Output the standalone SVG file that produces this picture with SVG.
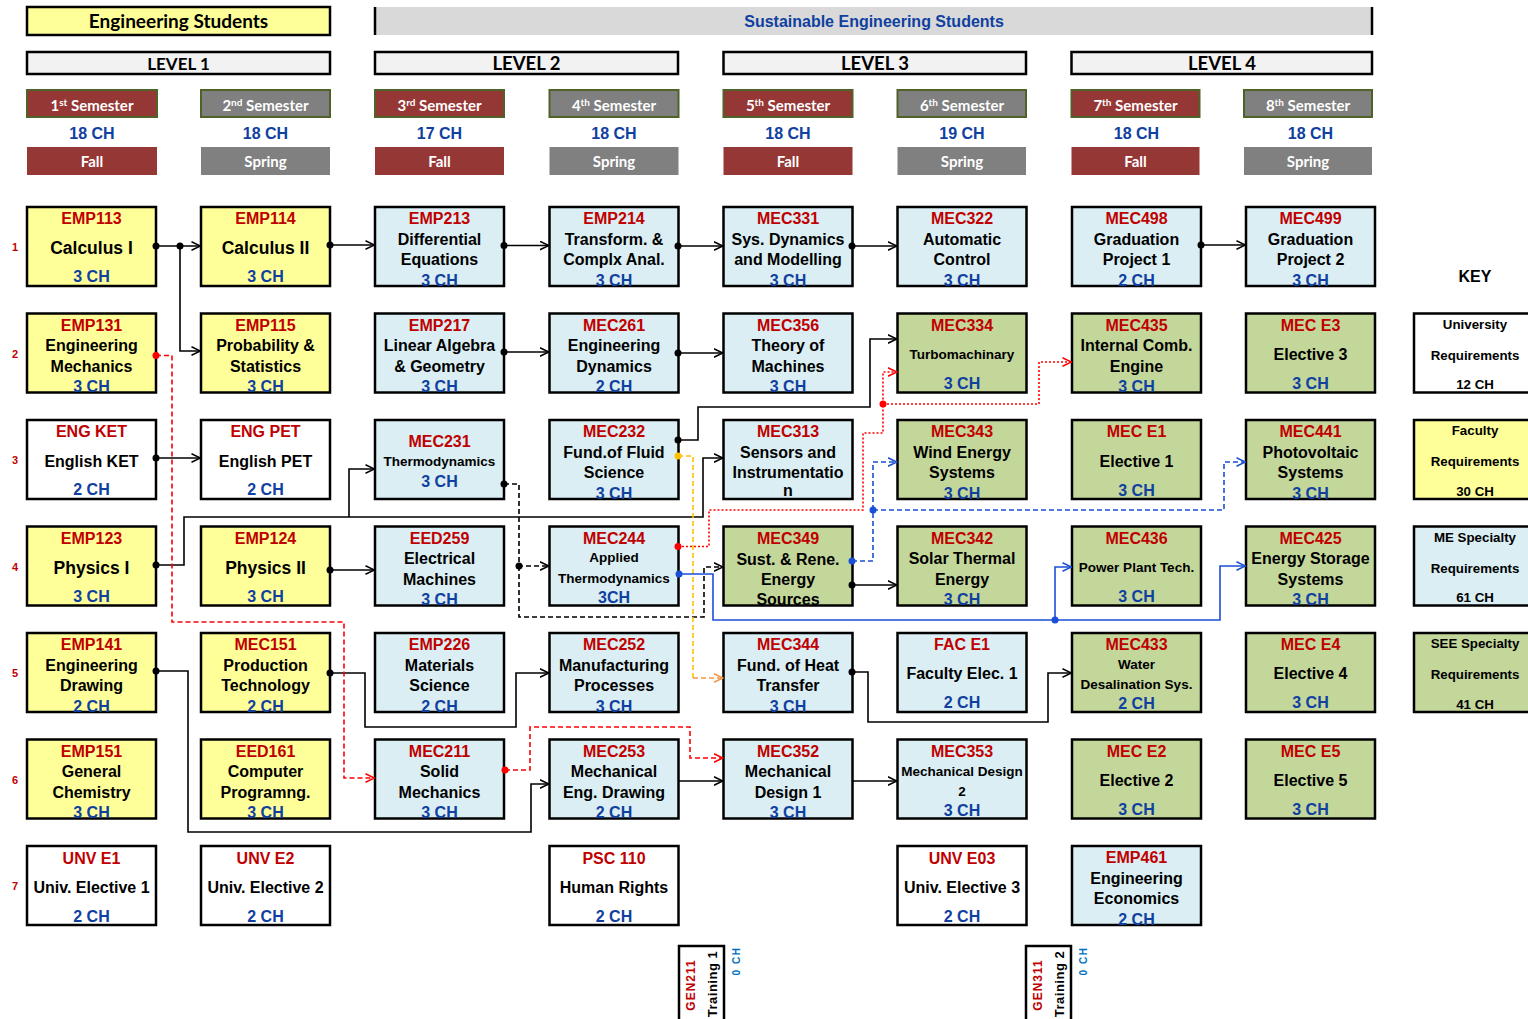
<svg xmlns="http://www.w3.org/2000/svg" width="1528" height="1019" viewBox="0 0 1528 1019">
<defs>
<style>
.a{font-family:"Liberation Sans",Arial,sans-serif;font-weight:bold;text-anchor:middle}
.cal{font-family:Lato,"Liberation Sans",sans-serif;font-weight:bold;text-anchor:middle}
.bx{stroke:#000;stroke-width:2.5}
.Y{fill:#ffff99}.B{fill:#daeef3}.G{fill:#c4d79b}.W{fill:#fff}
.c{fill:#c00000;font-size:16px}
.n{fill:#000;font-size:16px}
.h{fill:#1040a0;font-size:16px}
.sm{font-size:13.5px}
.lg{font-size:17.5px}
.kt{fill:#000;font-size:13.3px}
.rn{fill:#c00000;font-size:11px}
.sem{stroke:#4f6228;stroke-width:2}
.fa{fill:#953735}.sp{fill:#808080}
.wt{fill:#fff;font-size:15px}
.lv{fill:#f2f2f2;stroke:#000;stroke-width:2.5}
.ln{fill:none;stroke-width:1.6}
.k{stroke:#000}.r{stroke:#ff0000}.bl{stroke:#1a4fd6}.yl{stroke:#ffc000}.or{stroke:#f79646}
.ds{stroke-dasharray:5 3}.dt{stroke-dasharray:2 2}
.dk{fill:#000}.dr{fill:#ff0000}.db{fill:#1a4fd6}.dy{fill:#ffc000}
</style>
<marker id="ak" viewBox="0 0 10 10" refX="9.5" refY="5" markerWidth="10" markerHeight="10" markerUnits="userSpaceOnUse" orient="auto"><path d="M0.5,0.8 L9.5,5 L0.5,9.2" fill="none" stroke="#000" stroke-width="1.5"/></marker>
<marker id="ar" viewBox="0 0 10 10" refX="9.5" refY="5" markerWidth="10" markerHeight="10" markerUnits="userSpaceOnUse" orient="auto"><path d="M0.5,0.8 L9.5,5 L0.5,9.2" fill="none" stroke="#ff0000" stroke-width="1.5"/></marker>
<marker id="ab" viewBox="0 0 10 10" refX="9.5" refY="5" markerWidth="10" markerHeight="10" markerUnits="userSpaceOnUse" orient="auto"><path d="M0.5,0.8 L9.5,5 L0.5,9.2" fill="none" stroke="#1a4fd6" stroke-width="1.5"/></marker>
<marker id="ao" viewBox="0 0 10 10" refX="9.5" refY="5" markerWidth="10" markerHeight="10" markerUnits="userSpaceOnUse" orient="auto"><path d="M0.5,0.8 L9.5,5 L0.5,9.2" fill="none" stroke="#f79646" stroke-width="1.5"/></marker>
</defs>
<rect width="1528" height="1019" fill="#fff"/>

<!-- top banners -->
<g id="hdr-eng"><rect x="27" y="7" width="303" height="28" class="Y bx"/><text class="cal" x="178.5" y="28" font-size="19" fill="#000">Engineering Students</text></g>
<g id="hdr-see"><rect x="375" y="7" width="997" height="28" fill="#d9d9d9"/><line x1="375" y1="7" x2="375" y2="35" stroke="#000" stroke-width="2.5"/><line x1="1372" y1="7" x2="1372" y2="35" stroke="#000" stroke-width="2.5"/><text class="a" x="874" y="27" font-size="16" fill="#0f3fa0">Sustainable Engineering Students</text></g>

<!-- levels -->
<g id="levels">
<rect x="27" y="52" width="303" height="22" class="lv"/><text class="cal" x="178.5" y="69.5" font-size="17">LEVEL 1</text>
<rect x="375" y="52" width="303" height="22" class="lv"/><text class="cal" x="526.5" y="70" font-size="18.5">LEVEL 2</text>
<rect x="723.5" y="52" width="302.5" height="22" class="lv"/><text class="cal" x="875" y="70" font-size="18.5">LEVEL 3</text>
<rect x="1071.5" y="52" width="300.5" height="22" class="lv"/><text class="cal" x="1222" y="70" font-size="18.5">LEVEL 4</text>
</g>

<!-- semesters -->
<g id="semesters">
<rect x="27" y="90" width="130" height="27" class="fa sem"/><text class="cal wt" x="92" y="111">1<tspan dy="-5" font-size="10">st</tspan><tspan dy="5"> Semester</tspan></text>
<rect x="201" y="90" width="129" height="27" class="sp sem"/><text class="cal wt" x="265.5" y="111">2<tspan dy="-5" font-size="10">nd</tspan><tspan dy="5"> Semester</tspan></text>
<rect x="375" y="90" width="129" height="27" class="fa sem"/><text class="cal wt" x="439.5" y="111">3<tspan dy="-5" font-size="10">rd</tspan><tspan dy="5"> Semester</tspan></text>
<rect x="549.5" y="90" width="129" height="27" class="sp sem"/><text class="cal wt" x="614" y="111">4<tspan dy="-5" font-size="10">th</tspan><tspan dy="5"> Semester</tspan></text>
<rect x="723.5" y="90" width="129" height="27" class="fa sem"/><text class="cal wt" x="788" y="111">5<tspan dy="-5" font-size="10">th</tspan><tspan dy="5"> Semester</tspan></text>
<rect x="897.5" y="90" width="128.5" height="27" class="sp sem"/><text class="cal wt" x="962" y="111">6<tspan dy="-5" font-size="10">th</tspan><tspan dy="5"> Semester</tspan></text>
<rect x="1071.5" y="90" width="128" height="27" class="fa sem"/><text class="cal wt" x="1135.5" y="111">7<tspan dy="-5" font-size="10">th</tspan><tspan dy="5"> Semester</tspan></text>
<rect x="1244" y="90" width="128" height="27" class="sp sem"/><text class="cal wt" x="1308" y="111">8<tspan dy="-5" font-size="10">th</tspan><tspan dy="5"> Semester</tspan></text>

<text class="a h" x="92" y="139">18 CH</text>
<text class="a h" x="265.5" y="139">18 CH</text>
<text class="a h" x="439.5" y="139">17 CH</text>
<text class="a h" x="614" y="139">18 CH</text>
<text class="a h" x="788" y="139">18 CH</text>
<text class="a h" x="962" y="139">19 CH</text>
<text class="a h" x="1136.5" y="139">18 CH</text>
<text class="a h" x="1310.5" y="139">18 CH</text>

<rect x="27" y="147" width="130" height="28" class="fa"/><text class="cal wt" x="92" y="167">Fall</text>
<rect x="201" y="147" width="129" height="28" class="sp"/><text class="cal wt" x="265.5" y="167">Spring</text>
<rect x="375" y="147" width="129" height="28" class="fa"/><text class="cal wt" x="439.5" y="167">Fall</text>
<rect x="549.5" y="147" width="129" height="28" class="sp"/><text class="cal wt" x="614" y="167">Spring</text>
<rect x="723.5" y="147" width="129" height="28" class="fa"/><text class="cal wt" x="788" y="167">Fall</text>
<rect x="897.5" y="147" width="128.5" height="28" class="sp"/><text class="cal wt" x="962" y="167">Spring</text>
<rect x="1071.5" y="147" width="128" height="28" class="fa"/><text class="cal wt" x="1135.5" y="167">Fall</text>
<rect x="1244" y="147" width="128" height="28" class="sp"/><text class="cal wt" x="1308" y="167">Spring</text>
</g>

<!-- row numbers -->
<g id="row-numbers" class="a rn">
<text x="15" y="251">1</text><text x="15" y="357.5">2</text><text x="15" y="464">3</text><text x="15" y="570.5">4</text><text x="15" y="677">5</text><text x="15" y="783.5">6</text><text x="15" y="890">7</text>
</g>

<!-- row 1 -->
<g id="EMP113"><rect x="27" y="207" width="129" height="79" class="Y bx"/><text class="a c" x="91.5" y="224">EMP113</text><text class="a n lg" x="91.5" y="254">Calculus I</text><text class="a h" x="91.5" y="282">3 CH</text></g>
<g id="EMP114"><rect x="201" y="207" width="129" height="79" class="Y bx"/><text class="a c" x="265.5" y="224">EMP114</text><text class="a n lg" x="265.5" y="254">Calculus II</text><text class="a h" x="265.5" y="282">3 CH</text></g>
<g id="EMP213"><rect x="375" y="207" width="129" height="79" class="B bx"/><text class="a c" x="439.5" y="224">EMP213</text><text class="a n" x="439.5" y="244.5">Differential</text><text class="a n" x="439.5" y="265">Equations</text><text class="a h" x="439.5" y="285.5">3 CH</text></g>
<g id="EMP214"><rect x="549.5" y="207" width="129" height="79" class="B bx"/><text class="a c" x="614" y="224">EMP214</text><text class="a n" x="614" y="244.5">Transform. &amp;</text><text class="a n" x="614" y="265">Complx Anal.</text><text class="a h" x="614" y="285.5">3 CH</text></g>
<g id="MEC331"><rect x="723.5" y="207" width="129" height="79" class="B bx"/><text class="a c" x="788" y="224">MEC331</text><text class="a n" x="788" y="244.5">Sys. Dynamics</text><text class="a n" x="788" y="265">and Modelling</text><text class="a h" x="788" y="285.5">3 CH</text></g>
<g id="MEC322"><rect x="897.5" y="207" width="129" height="79" class="B bx"/><text class="a c" x="962" y="224">MEC322</text><text class="a n" x="962" y="244.5">Automatic</text><text class="a n" x="962" y="265">Control</text><text class="a h" x="962" y="285.5">3 CH</text></g>
<g id="MEC498"><rect x="1072" y="207" width="129" height="79" class="B bx"/><text class="a c" x="1136.5" y="224">MEC498</text><text class="a n" x="1136.5" y="244.5">Graduation</text><text class="a n" x="1136.5" y="265">Project 1</text><text class="a h" x="1136.5" y="285.5">2 CH</text></g>
<g id="MEC499"><rect x="1246" y="207" width="129" height="79" class="B bx"/><text class="a c" x="1310.5" y="224">MEC499</text><text class="a n" x="1310.5" y="244.5">Graduation</text><text class="a n" x="1310.5" y="265">Project 2</text><text class="a h" x="1310.5" y="285.5">3 CH</text></g>
<text class="a" x="1475" y="282" font-size="16" fill="#000">KEY</text>

<!-- row 2 -->
<g id="EMP131"><rect x="27" y="313.5" width="129" height="79" class="Y bx"/><text class="a c" x="91.5" y="330.5">EMP131</text><text class="a n" x="91.5" y="351">Engineering</text><text class="a n" x="91.5" y="371.5">Mechanics</text><text class="a h" x="91.5" y="392">3 CH</text></g>
<g id="EMP115"><rect x="201" y="313.5" width="129" height="79" class="Y bx"/><text class="a c" x="265.5" y="330.5">EMP115</text><text class="a n" x="265.5" y="351">Probability &amp;</text><text class="a n" x="265.5" y="371.5">Statistics</text><text class="a h" x="265.5" y="392">3 CH</text></g>
<g id="EMP217"><rect x="375" y="313.5" width="129" height="79" class="B bx"/><text class="a c" x="439.5" y="330.5">EMP217</text><text class="a n" x="439.5" y="351">Linear Algebra</text><text class="a n" x="439.5" y="371.5">&amp; Geometry</text><text class="a h" x="439.5" y="392">3 CH</text></g>
<g id="MEC261"><rect x="549.5" y="313.5" width="129" height="79" class="B bx"/><text class="a c" x="614" y="330.5">MEC261</text><text class="a n" x="614" y="351">Engineering</text><text class="a n" x="614" y="371.5">Dynamics</text><text class="a h" x="614" y="392">2 CH</text></g>
<g id="MEC356"><rect x="723.5" y="313.5" width="129" height="79" class="B bx"/><text class="a c" x="788" y="330.5">MEC356</text><text class="a n" x="788" y="351">Theory of</text><text class="a n" x="788" y="371.5">Machines</text><text class="a h" x="788" y="392">3 CH</text></g>
<g id="MEC334"><rect x="897.5" y="313.5" width="129" height="79" class="G bx"/><text class="a c" x="962" y="330.5">MEC334</text><text class="a n sm" x="962" y="358.5">Turbomachinary</text><text class="a h" x="962" y="389">3 CH</text></g>
<g id="MEC435"><rect x="1072" y="313.5" width="129" height="79" class="G bx"/><text class="a c" x="1136.5" y="330.5">MEC435</text><text class="a n" x="1136.5" y="351">Internal Comb.</text><text class="a n" x="1136.5" y="371.5">Engine</text><text class="a h" x="1136.5" y="392">3 CH</text></g>
<g id="MEC-E3"><rect x="1246" y="313.5" width="129" height="79" class="G bx"/><text class="a c" x="1310.5" y="330.5">MEC E3</text><text class="a n" x="1310.5" y="360">Elective 3</text><text class="a h" x="1310.5" y="389">3 CH</text></g>
<g id="key-university"><rect x="1414" y="313.5" width="130" height="79" class="W bx"/><text class="a kt" x="1475" y="328.5">University</text><text class="a kt" x="1475" y="359.5">Requirements</text><text class="a kt" x="1475" y="389">12 CH</text></g>

<!-- row 3 -->
<g id="ENG-KET"><rect x="27" y="420" width="129" height="79" class="W bx"/><text class="a c" x="91.5" y="437">ENG KET</text><text class="a n" x="91.5" y="466.5">English KET</text><text class="a h" x="91.5" y="495">2 CH</text></g>
<g id="ENG-PET"><rect x="201" y="420" width="129" height="79" class="W bx"/><text class="a c" x="265.5" y="437">ENG PET</text><text class="a n" x="265.5" y="466.5">English PET</text><text class="a h" x="265.5" y="495">2 CH</text></g>
<g id="MEC231"><rect x="375" y="420" width="129" height="79" class="B bx"/><text class="a c" x="439.5" y="446.5">MEC231</text><text class="a n sm" x="439.5" y="466">Thermodynamics</text><text class="a h" x="439.5" y="486.5">3 CH</text></g>
<g id="MEC232"><rect x="549.5" y="420" width="129" height="79" class="B bx"/><text class="a c" x="614" y="437">MEC232</text><text class="a n" x="614" y="457.5">Fund.of Fluid</text><text class="a n" x="614" y="478">Science</text><text class="a h" x="614" y="498.5">3 CH</text></g>
<g id="MEC313"><rect x="723.5" y="420" width="129" height="79" class="B bx"/><text class="a c" x="788" y="436.5">MEC313</text><text class="a n" x="788" y="457.5">Sensors and</text><text class="a n" x="788" y="477.5">Instrumentatio</text><text class="a n" x="788" y="496">n</text></g>
<g id="MEC343"><rect x="897.5" y="420" width="129" height="79" class="G bx"/><text class="a c" x="962" y="437">MEC343</text><text class="a n" x="962" y="457.5">Wind Energy</text><text class="a n" x="962" y="478">Systems</text><text class="a h" x="962" y="498.5">3 CH</text></g>
<g id="MEC-E1"><rect x="1072" y="420" width="129" height="79" class="G bx"/><text class="a c" x="1136.5" y="437">MEC E1</text><text class="a n" x="1136.5" y="466.5">Elective 1</text><text class="a h" x="1136.5" y="495.5">3 CH</text></g>
<g id="MEC441"><rect x="1246" y="420" width="129" height="79" class="G bx"/><text class="a c" x="1310.5" y="437">MEC441</text><text class="a n" x="1310.5" y="457.5">Photovoltaic</text><text class="a n" x="1310.5" y="478">Systems</text><text class="a h" x="1310.5" y="498.5">3 CH</text></g>
<g id="key-faculty"><rect x="1414" y="420" width="130" height="79" class="Y bx"/><text class="a kt" x="1475" y="435">Faculty</text><text class="a kt" x="1475" y="466">Requirements</text><text class="a kt" x="1475" y="495.5">30 CH</text></g>

<!-- row 4 -->
<g id="EMP123"><rect x="27" y="526.5" width="129" height="79" class="Y bx"/><text class="a c" x="91.5" y="543.5">EMP123</text><text class="a n lg" x="91.5" y="573.5">Physics I</text><text class="a h" x="91.5" y="601.5">3 CH</text></g>
<g id="EMP124"><rect x="201" y="526.5" width="129" height="79" class="Y bx"/><text class="a c" x="265.5" y="543.5">EMP124</text><text class="a n lg" x="265.5" y="573.5">Physics II</text><text class="a h" x="265.5" y="601.5">3 CH</text></g>
<g id="EED259"><rect x="375" y="526.5" width="129" height="79" class="B bx"/><text class="a c" x="439.5" y="543.5">EED259</text><text class="a n" x="439.5" y="564">Electrical</text><text class="a n" x="439.5" y="584.5">Machines</text><text class="a h" x="439.5" y="605">3 CH</text></g>
<g id="MEC244"><rect x="549.5" y="526.5" width="129" height="79" class="B bx"/><text class="a c" x="614" y="543.5">MEC244</text><text class="a n sm" x="614" y="562">Applied</text><text class="a n sm" x="614" y="582.5">Thermodynamics</text><text class="a h" x="614" y="602.5">3CH</text></g>
<g id="MEC349"><rect x="723.5" y="526.5" width="129" height="79" class="G bx"/><text class="a c" x="788" y="543.5">MEC349</text><text class="a n" x="788" y="564.5">Sust. &amp; Rene.</text><text class="a n" x="788" y="584.5">Energy</text><text class="a n" x="788" y="604.5">Sources</text></g>
<g id="MEC342"><rect x="897.5" y="526.5" width="129" height="79" class="G bx"/><text class="a c" x="962" y="543.5">MEC342</text><text class="a n" x="962" y="564">Solar Thermal</text><text class="a n" x="962" y="584.5">Energy</text><text class="a h" x="962" y="605">3 CH</text></g>
<g id="MEC436"><rect x="1072" y="526.5" width="129" height="79" class="G bx"/><text class="a c" x="1136.5" y="543.5">MEC436</text><text class="a n sm" x="1136.5" y="571.5">Power Plant Tech.</text><text class="a h" x="1136.5" y="602">3 CH</text></g>
<g id="MEC425"><rect x="1246" y="526.5" width="129" height="79" class="G bx"/><text class="a c" x="1310.5" y="543.5">MEC425</text><text class="a n" x="1310.5" y="564">Energy Storage</text><text class="a n" x="1310.5" y="584.5">Systems</text><text class="a h" x="1310.5" y="605">3 CH</text></g>
<g id="key-me"><rect x="1414" y="526.5" width="130" height="79" class="B bx"/><text class="a kt" x="1475" y="541.5">ME Specialty</text><text class="a kt" x="1475" y="572.5">Requirements</text><text class="a kt" x="1475" y="602">61 CH</text></g>

<!-- row 5 -->
<g id="EMP141"><rect x="27" y="633" width="129" height="79" class="Y bx"/><text class="a c" x="91.5" y="650">EMP141</text><text class="a n" x="91.5" y="670.5">Engineering</text><text class="a n" x="91.5" y="691">Drawing</text><text class="a h" x="91.5" y="711.5">2 CH</text></g>
<g id="MEC151"><rect x="201" y="633" width="129" height="79" class="Y bx"/><text class="a c" x="265.5" y="650">MEC151</text><text class="a n" x="265.5" y="670.5">Production</text><text class="a n" x="265.5" y="691">Technology</text><text class="a h" x="265.5" y="711.5">2 CH</text></g>
<g id="EMP226"><rect x="375" y="633" width="129" height="79" class="B bx"/><text class="a c" x="439.5" y="650">EMP226</text><text class="a n" x="439.5" y="670.5">Materials</text><text class="a n" x="439.5" y="691">Science</text><text class="a h" x="439.5" y="711.5">2 CH</text></g>
<g id="MEC252"><rect x="549.5" y="633" width="129" height="79" class="B bx"/><text class="a c" x="614" y="650">MEC252</text><text class="a n" x="614" y="670.5">Manufacturing</text><text class="a n" x="614" y="691">Processes</text><text class="a h" x="614" y="711.5">3 CH</text></g>
<g id="MEC344"><rect x="723.5" y="633" width="129" height="79" class="B bx"/><text class="a c" x="788" y="650">MEC344</text><text class="a n" x="788" y="670.5">Fund. of Heat</text><text class="a n" x="788" y="691">Transfer</text><text class="a h" x="788" y="711.5">3 CH</text></g>
<g id="FAC-E1"><rect x="897.5" y="633" width="129" height="79" class="B bx"/><text class="a c" x="962" y="650">FAC E1</text><text class="a n" x="962" y="679">Faculty Elec. 1</text><text class="a h" x="962" y="708">2 CH</text></g>
<g id="MEC433"><rect x="1072" y="633" width="129" height="79" class="G bx"/><text class="a c" x="1136.5" y="650">MEC433</text><text class="a n sm" x="1136.5" y="669">Water</text><text class="a n sm" x="1136.5" y="689">Desalination Sys.</text><text class="a h" x="1136.5" y="709">2 CH</text></g>
<g id="MEC-E4"><rect x="1246" y="633" width="129" height="79" class="G bx"/><text class="a c" x="1310.5" y="650">MEC E4</text><text class="a n" x="1310.5" y="679">Elective 4</text><text class="a h" x="1310.5" y="708">3 CH</text></g>
<g id="key-see"><rect x="1414" y="633" width="130" height="79" class="G bx"/><text class="a kt" x="1475" y="648">SEE Specialty</text><text class="a kt" x="1475" y="679">Requirements</text><text class="a kt" x="1475" y="708.5">41 CH</text></g>

<!-- row 6 -->
<g id="EMP151"><rect x="27" y="739.5" width="129" height="79" class="Y bx"/><text class="a c" x="91.5" y="756.5">EMP151</text><text class="a n" x="91.5" y="777">General</text><text class="a n" x="91.5" y="797.5">Chemistry</text><text class="a h" x="91.5" y="818">3 CH</text></g>
<g id="EED161"><rect x="201" y="739.5" width="129" height="79" class="Y bx"/><text class="a c" x="265.5" y="756.5">EED161</text><text class="a n" x="265.5" y="777">Computer</text><text class="a n" x="265.5" y="797.5">Programng.</text><text class="a h" x="265.5" y="818">3 CH</text></g>
<g id="MEC211"><rect x="375" y="739.5" width="129" height="79" class="B bx"/><text class="a c" x="439.5" y="756.5">MEC211</text><text class="a n" x="439.5" y="777">Solid</text><text class="a n" x="439.5" y="797.5">Mechanics</text><text class="a h" x="439.5" y="818">3 CH</text></g>
<g id="MEC253"><rect x="549.5" y="739.5" width="129" height="79" class="B bx"/><text class="a c" x="614" y="756.5">MEC253</text><text class="a n" x="614" y="777">Mechanical</text><text class="a n" x="614" y="797.5">Eng. Drawing</text><text class="a h" x="614" y="818">2 CH</text></g>
<g id="MEC352"><rect x="723.5" y="739.5" width="129" height="79" class="B bx"/><text class="a c" x="788" y="756.5">MEC352</text><text class="a n" x="788" y="777">Mechanical</text><text class="a n" x="788" y="797.5">Design 1</text><text class="a h" x="788" y="818">3 CH</text></g>
<g id="MEC353"><rect x="897.5" y="739.5" width="129" height="79" class="B bx"/><text class="a c" x="962" y="756.5">MEC353</text><text class="a n sm" x="962" y="775.5">Mechanical Design</text><text class="a n sm" x="962" y="796">2</text><text class="a h" x="962" y="815.5">3 CH</text></g>
<g id="MEC-E2"><rect x="1072" y="739.5" width="129" height="79" class="G bx"/><text class="a c" x="1136.5" y="756.5">MEC E2</text><text class="a n" x="1136.5" y="785.5">Elective 2</text><text class="a h" x="1136.5" y="815">3 CH</text></g>
<g id="MEC-E5"><rect x="1246" y="739.5" width="129" height="79" class="G bx"/><text class="a c" x="1310.5" y="756.5">MEC E5</text><text class="a n" x="1310.5" y="785.5">Elective 5</text><text class="a h" x="1310.5" y="815">3 CH</text></g>

<!-- row 7 -->
<g id="UNV-E1"><rect x="27" y="846" width="129" height="79" class="W bx"/><text class="a c" x="91.5" y="863.5">UNV E1</text><text class="a n" x="91.5" y="892.5">Univ. Elective 1</text><text class="a h" x="91.5" y="921.5">2 CH</text></g>
<g id="UNV-E2"><rect x="201" y="846" width="129" height="79" class="W bx"/><text class="a c" x="265.5" y="863.5">UNV E2</text><text class="a n" x="265.5" y="892.5">Univ. Elective 2</text><text class="a h" x="265.5" y="921.5">2 CH</text></g>
<g id="PSC110"><rect x="549.5" y="846" width="129" height="79" class="W bx"/><text class="a c" x="614" y="863.5">PSC 110</text><text class="a n" x="614" y="892.5">Human Rights</text><text class="a h" x="614" y="921.5">2 CH</text></g>
<g id="UNV-E03"><rect x="897.5" y="846" width="129" height="79" class="W bx"/><text class="a c" x="962" y="863.5">UNV E03</text><text class="a n" x="962" y="892.5">Univ. Elective 3</text><text class="a h" x="962" y="921.5">2 CH</text></g>
<g id="EMP461"><rect x="1072" y="846" width="129" height="79" class="B bx"/><text class="a c" x="1136.5" y="863">EMP461</text><text class="a n" x="1136.5" y="883.5">Engineering</text><text class="a n" x="1136.5" y="904">Economics</text><text class="a h" x="1136.5" y="924.5">2 CH</text></g>

<!-- training blocks (vertical) -->
<g id="GEN211"><rect x="679" y="946" width="45" height="80" class="W bx"/><text class="a" fill="#c00000" font-size="12" letter-spacing="1" transform="translate(694.5,985) rotate(-90)">GEN211</text><text class="a" fill="#000" font-size="13" letter-spacing="0.5" transform="translate(716.5,984) rotate(-90)">Training 1</text><text class="a" fill="#0070c0" font-size="10" letter-spacing="1.5" transform="translate(739.5,961) rotate(-90)">0 CH</text></g>
<g id="GEN311"><rect x="1026" y="946" width="45" height="80" class="W bx"/><text class="a" fill="#c00000" font-size="12" letter-spacing="1" transform="translate(1041.5,985) rotate(-90)">GEN311</text><text class="a" fill="#000" font-size="13" letter-spacing="0.5" transform="translate(1063.5,984) rotate(-90)">Training 2</text><text class="a" fill="#0070c0" font-size="10" letter-spacing="1.5" transform="translate(1086.5,961) rotate(-90)">0 CH</text></g>

<!-- prerequisite connectors -->
<g id="connectors">
<path class="ln k" d="M156,246 H200.5" marker-end="url(#ak)"/>
<path class="ln k" d="M180,246 V351 H200.5" marker-end="url(#ak)"/>
<path class="ln k" d="M330,245 H374.5" marker-end="url(#ak)"/>
<path class="ln k" d="M504,245.5 H549" marker-end="url(#ak)"/>
<path class="ln k" d="M678,246 H723" marker-end="url(#ak)"/>
<path class="ln k" d="M852,246 H897" marker-end="url(#ak)"/>
<path class="ln k" d="M1201,245 H1245.5" marker-end="url(#ak)"/>
<path class="ln k" d="M504,352 H549" marker-end="url(#ak)"/>
<path class="ln k" d="M678,353 H723" marker-end="url(#ak)"/>
<path class="ln k" d="M678,440 H698 V407 H870 V339 H897" marker-end="url(#ak)"/>
<path class="ln k" d="M156,458 H200.5" marker-end="url(#ak)"/>
<path class="ln k" d="M156,565 H184 V517 H703 V458 H723" marker-end="url(#ak)"/>
<path class="ln k" d="M349,517 V469 H374.5" marker-end="url(#ak)"/>
<path class="ln k" d="M330,570 H374.5" marker-end="url(#ak)"/>
<path class="ln k" d="M156,671 H188 V832 H531 V784 H549" marker-end="url(#ak)"/>
<path class="ln k" d="M330,673 H365 V727 H516 V673 H549" marker-end="url(#ak)"/>
<path class="ln k" d="M678,781 H723" marker-end="url(#ak)"/>
<path class="ln k" d="M852,781 H897" marker-end="url(#ak)"/>
<path class="ln k" d="M852,585 H897" marker-end="url(#ak)"/>
<path class="ln k" d="M852,672 H868 V722 H1048 V673 H1071.5" marker-end="url(#ak)"/>

<path class="ln k ds" d="M504,484 H519 V566 H549" marker-end="url(#ak)"/>
<path class="ln k ds" d="M519,566 V617 H704 V567 H723" marker-end="url(#ak)"/>

<path class="ln r ds" d="M156,355.5 H172 V622 H344 V778 H374.5" marker-end="url(#ar)"/>
<path class="ln r ds" d="M505,770 H530 V727 H690 V758 H723" marker-end="url(#ar)"/>

<path class="ln r dt" d="M678,546.5 H709 V510 H863 V433 H883 V372 H897" marker-end="url(#ar)"/>
<path class="ln r dt" d="M883,404 H1039 V362 H1071.5" marker-end="url(#ar)"/>

<path class="ln yl ds" d="M678,456 H693 V678"/>
<path class="ln or ds" d="M693,678 H723" marker-end="url(#ao)"/>

<path class="ln bl" d="M679,574 H713 V620 H1055 V567 H1071.5" marker-end="url(#ab)"/>
<path class="ln bl" d="M1055,620 H1220 V566 H1245.5" marker-end="url(#ab)"/>

<path class="ln bl ds" d="M852,561 H873 V462 H897" marker-end="url(#ab)"/>
<path class="ln bl ds" d="M873,510 H1224 V462 H1245.5" marker-end="url(#ab)"/>

<g class="dk">
<circle cx="156" cy="246" r="3.5"/><circle cx="180" cy="246" r="3.5"/><circle cx="330" cy="245" r="3.5"/><circle cx="504" cy="245.5" r="3.5"/><circle cx="678" cy="246" r="3.5"/><circle cx="852" cy="246" r="3.5"/><circle cx="1201" cy="245" r="3.5"/>
<circle cx="504" cy="352" r="3.5"/><circle cx="678" cy="353" r="3.5"/><circle cx="678" cy="440" r="3.5"/><circle cx="156" cy="458" r="3.5"/><circle cx="156" cy="565" r="3.5"/><circle cx="330" cy="570" r="3.5"/>
<circle cx="156" cy="671" r="3.5"/><circle cx="330" cy="673" r="3.5"/><circle cx="852" cy="585" r="3.5"/><circle cx="852" cy="672" r="3.5"/><circle cx="504" cy="484" r="3.5"/><circle cx="519" cy="566" r="3.5"/>
</g>
<g class="dr"><circle cx="156" cy="355.5" r="3.5"/><circle cx="505" cy="770" r="3.5"/><circle cx="678" cy="546.5" r="3.5"/><circle cx="883" cy="404" r="3.5"/></g>
<circle class="dy" cx="678" cy="456" r="3.5"/>
<g class="db"><circle cx="679" cy="574" r="3.5"/><circle cx="1055" cy="620" r="3.5"/><circle cx="852" cy="561" r="3.5"/><circle cx="873" cy="510" r="3.5"/></g>
</g>
</svg>
